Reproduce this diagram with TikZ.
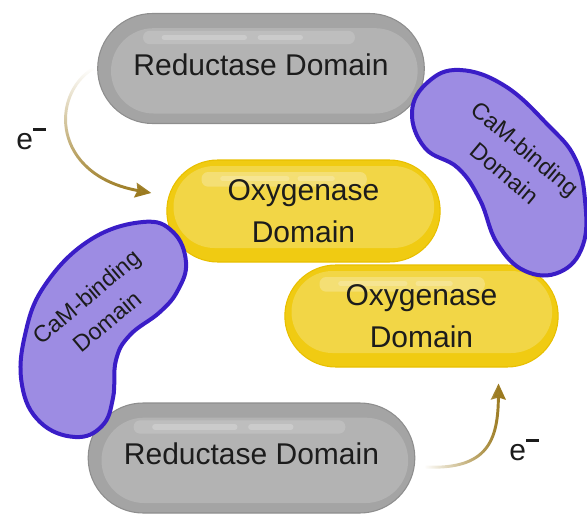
\documentclass[tikz,border=0pt]{standalone}
\usepackage{fontspec}
\setmainfont{Liberation Sans}
\usetikzlibrary{arrows.meta,positioning,calc,shapes.misc,fadings}
\definecolor{greyrim}{HTML}{8E8E8E}
\definecolor{greyout}{HTML}{A4A4A4}
\definecolor{greyin}{HTML}{B3B3B3}
\definecolor{greyhl}{HTML}{BEBEBE}
\definecolor{greystreak}{HTML}{CBCBCB}
\definecolor{yellowrim}{HTML}{E8BF00}
\definecolor{yellowout}{HTML}{F0CB12}
\definecolor{yellowin}{HTML}{F2D646}
\definecolor{yellowhl}{HTML}{F4DF74}
\definecolor{yellowstreak}{HTML}{F6E592}
\definecolor{beanfill}{HTML}{9D8CE3}
\definecolor{beanline}{HTML}{3A1DC7}
\definecolor{etranscol}{HTML}{9B7A20}
\definecolor{textcol}{HTML}{1C1C1C}
\tikzfading[name=fadetop, top color=transparent!100, middle color=transparent!0, bottom color=transparent!0]
\tikzfading[name=fadeleft, left color=transparent!100, middle color=transparent!0, right color=transparent!0]

\begin{document}
\begin{tikzpicture}[
    x=0.75pt, y=-0.75pt,
    redpill/.style={
        rounded rectangle, draw=greyrim, line width=0.8pt, fill=greyout,
        minimum width=245pt, minimum height=82.5pt, inner sep=0pt,
        font=\fontsize{22.5}{31.5}\selectfont, text=textcol, text depth=6pt,
        path picture={
            \fill[greyin, rounded corners=32pt]
                ([shift={(10pt,-11pt)}]path picture bounding box.north west)
                rectangle ([shift={(-5pt,7.5pt)}]path picture bounding box.south east);
            \fill[greyhl, rounded corners=5pt]
                ([shift={(34pt,-13pt)}]path picture bounding box.north west)
                rectangle ([shift={(193pt,-23pt)}]path picture bounding box.north west);
            \draw[greystreak, line width=4pt, line cap=round]
                ([shift={(50pt,-18pt)}]path picture bounding box.north west) -- ++(60pt,0pt)
                ([shift={(122pt,-18pt)}]path picture bounding box.north west) -- ++(30pt,0pt);
        }
    },
    oxypill/.style={
        rounded rectangle, draw=yellowrim, line width=0.8pt, fill=yellowout,
        minimum width=205pt, minimum height=76.5pt, inner sep=0pt, align=center,
        font=\fontsize{22.5}{31.5}\selectfont, text=textcol,
        path picture={
            \fill[yellowin, rounded corners=30.75pt]
                ([shift={(5pt,-4.5pt)}]path picture bounding box.north west)
                rectangle ([shift={(-4.5pt,10.5pt)}]path picture bounding box.south east);
            \fill[yellowhl, rounded corners=5pt]
                ([shift={(26pt,-9pt)}]path picture bounding box.north west)
                rectangle ([shift={(150pt,-20pt)}]path picture bounding box.north west);
            \draw[yellowstreak, line width=4pt, line cap=round]
                ([shift={(42pt,-14pt)}]path picture bounding box.north west) -- ++(48pt,0pt)
                ([shift={(100pt,-14pt)}]path picture bounding box.north west) -- ++(24pt,0pt);
        }
    },
    bean/.style={fill=beanfill, draw=beanline, line width=3pt},
    beantext/.style={align=center, text=textcol, inner sep=0pt,
        font=\fontsize{17.5}{24}\selectfont},
    etrans/.style={-{Stealth[length=12pt, width=11pt, inset=1.5pt]}, line width=2.2pt, etranscol},
    elabel/.style={text=textcol, font=\fontsize{22.5}{27}\selectfont}
]
\useasboundingbox (0,0) rectangle (587,514);

% domains
\node[redpill] (redtop) at (261,68.5) {Reductase Domain};
\node[redpill] (redbot) at (251.5,458) {Reductase Domain};
\node[oxypill] (oxy1) at (303.5,211) {Oxygenase\\Domain};
\node[oxypill] (oxy2) at (421.5,316) {Oxygenase\\Domain};

% electron transfer
\draw[etrans, path fading=fadetop] ([xshift=-3pt]redtop.west)
    .. controls (50,95) and (52,175) .. ($(oxy1.west)+(-15,-18)$);
\draw[etrans, path fading=fadeleft] ($(redbot.east)+(10,9)$)
    .. controls (488,470) and (498,440) .. ($(oxy2.south)+(77,16)$);
\node[elabel] (elab1) at (31,139) {e\raisebox{0.62em}{\rule{0.42em}{0.085em}}};
\node[elabel] (elab2) at (524,450) {e\raisebox{0.62em}{\rule{0.42em}{0.085em}}};

% calmodulin binding
\draw[bean] plot[smooth cycle, tension=0.7] coordinates {
    (412,112) (428,82) (460,70) (505,86) (548,125) (575,158) (585,200)
    (583,245) (560,272) (525,271) (497,243) (480,200) (458,168) (425,148)};
\draw[bean] plot[smooth cycle, tension=0.7] coordinates {
    (143,222) (173,232) (186,262) (178,290) (160,312) (130,335) (116,360)
    (113,398) (102,426) (75,437) (40,422) (22,385) (25,335) (45,285) (90,240)};
\node[beantext, rotate=-40] (cam1) at (515,161) {CaM-binding\\Domain};
\node[beantext, rotate=40] (cam2) at (97,309) {CaM-binding\\Domain};
\end{tikzpicture}
\end{document}
